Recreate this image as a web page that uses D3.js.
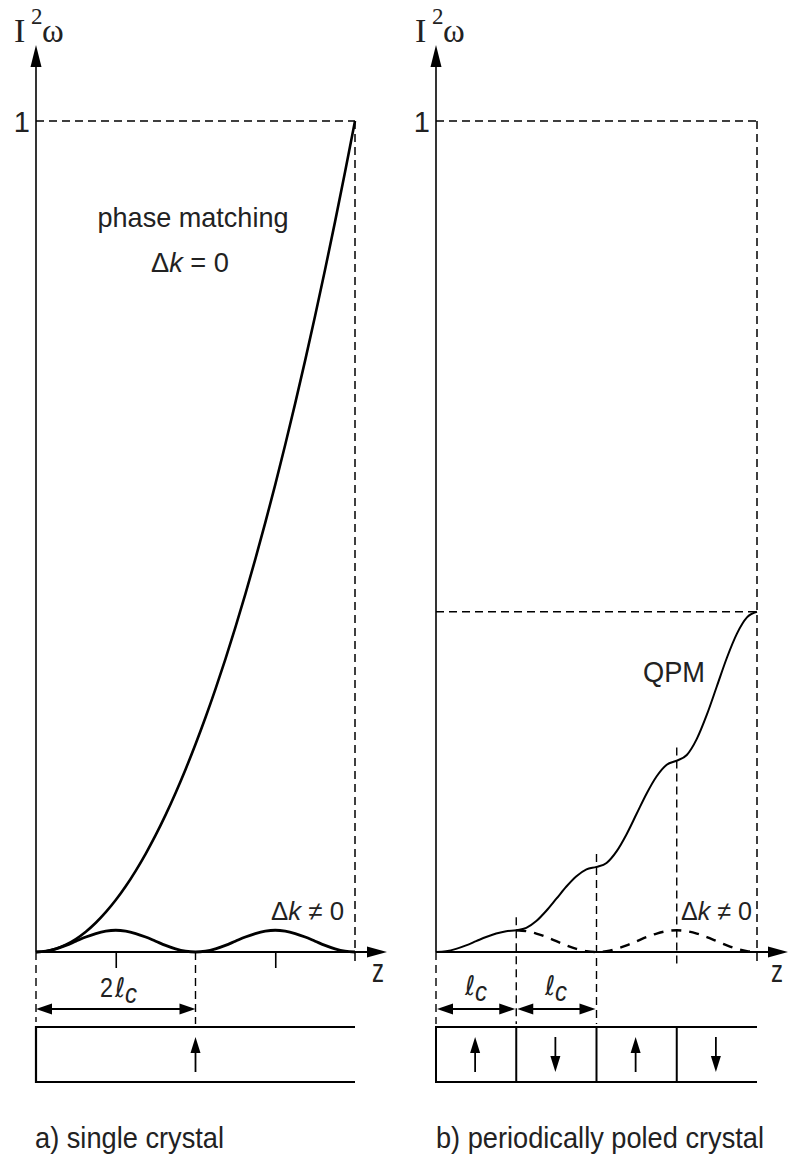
<!DOCTYPE html>
<html><head><meta charset="utf-8">
<script src="https://cdn.jsdelivr.net/npm/d3@7"></script>
<style>body{margin:0;background:#fff}svg{display:block}</style>
</head><body>
<svg id="chart" width="788" height="1161"></svg>
<script>
// ---------- data (z in units of the coherence length l_c, I normalised to phase-matched max) ----------
const zGrid = [0,0.125,0.25,0.375,0.5,0.625,0.75,0.875,1,1.125,1.25,1.375,1.5,1.625,1.75,1.875,2,
               2.125,2.25,2.375,2.5,2.625,2.75,2.875,3,3.125,3.25,3.375,3.5,3.625,3.75,3.875,4];
const phaseMatched = [0,0.0010,0.0039,0.0088,0.0156,0.0244,0.0352,0.0479,0.0625,0.0791,0.0977,0.1182,0.1406,
                      0.1650,0.1914,0.2197,0.25,0.2822,0.3164,0.3525,0.3906,0.4307,0.4727,0.5166,0.5625,
                      0.6104,0.6602,0.7119,0.7656,0.8213,0.8789,0.9385,1];
const mismatched = [0,0.0010,0.0038,0.0080,0.0130,0.0180,0.0222,0.0251,0.0262,0.0251,0.0222,0.0180,0.0130,
                    0.0080,0.0038,0.0010,0,0.0010,0.0038,0.0080,0.0130,0.0180,0.0222,0.0251,0.0262,
                    0.0251,0.0222,0.0180,0.0130,0.0080,0.0038,0.0010,0];
const qpm = [0,0.0010,0.0038,0.0080,0.0130,0.0180,0.0222,0.0251,0.0262,0.0290,0.0372,0.0496,0.0641,0.0788,
             0.0912,0.0995,0.1024,0.1072,0.1211,0.1418,0.1663,0.1908,0.2115,0.2254,0.2303,0.2371,0.2565,
             0.2856,0.3198,0.3541,0.3831,0.4026,0.4094];
const qpmMax = 0.4094;
const yTicks = [1];
const leftTicks = [1, 3];
const domainWalls = [0, 1, 2, 3];
const domainCenters = [0.5, 1.5, 2.5, 3.5];
const domainDirs = ["up", "down", "up", "down"];
const qpmMarkers = [1, 2, 3];
const captions = ["a) single crystal", "b) periodically poled crystal"];

// ---------- scales ----------
const svg = d3.select("#chart");
const y = d3.scaleLinear().domain([0, 1]).range([952, 121]);
const xL = d3.scaleLinear().domain([0, 4]).range([36, 355]);
const xR = d3.scaleLinear().domain([0, 4]).range([436, 757]);
const y0 = y(0);
const boxTop = 1027, boxBot = 1082, dimY = 1009;

const pts = (xs, vals) => xs.map((z, i) => [z, vals[i]]);
const lineGen = x => d3.line().x(d => x(d[0])).y(d => y(d[1])).curve(d3.curveMonotoneX);

function dashed(x1, y1, x2, y2, w = 1.4, dash = "8,5") {
  svg.append("line").attr("x1", x1).attr("y1", y1).attr("x2", x2).attr("y2", y2)
    .attr("stroke", "#000").attr("stroke-width", w).attr("stroke-dasharray", dash);
}
function solid(x1, y1, x2, y2, w = 1.5) {
  svg.append("line").attr("x1", x1).attr("y1", y1).attr("x2", x2).attr("y2", y2)
    .attr("stroke", "#000").attr("stroke-width", w);
}
function head(tx, ty, dir, len = 16, half = 5.5) {
  let p;
  if (dir === "up") p = [[tx, ty], [tx - half, ty + len], [tx + half, ty + len]];
  else if (dir === "down") p = [[tx, ty], [tx - half, ty - len], [tx + half, ty - len]];
  else if (dir === "right") p = [[tx, ty], [tx - len, ty - half], [tx - len, ty + half]];
  else p = [[tx, ty], [tx + len, ty - half], [tx + len, ty + half]];
  svg.append("path").attr("d", "M" + p.map(q => q.join(",")).join("L") + "Z").attr("fill", "#000");
}
function text(str, x, yy, size, opts = {}) {
  const t = svg.append("text").attr("x", x).attr("y", yy)
    .attr("font-family", opts.family || "'Liberation Sans', Arial, sans-serif")
    .attr("font-size", size).attr("fill", "#222")
    .attr("text-anchor", opts.anchor || "start");
  if (opts.italic) t.attr("font-style", "italic");
  if (opts.len) t.attr("textLength", opts.len).attr("lengthAdjust", "spacingAndGlyphs");
  t.text(str);
  return t;
}
function deltaK(str, x, yy, size, len) {
  const t = svg.append("text").attr("x", x).attr("y", yy)
    .attr("font-family", "'Liberation Sans', Arial, sans-serif").attr("font-size", size).attr("fill", "#222")
    .attr("textLength", len).attr("lengthAdjust", "spacingAndGlyphs");
  t.append("tspan").text("\u0394");
  t.append("tspan").attr("font-style", "italic").text("k");
  t.append("tspan").text(str);
}
function ylabel(x0) {
  const serif = "'Liberation Serif', 'Times New Roman', serif";
  text("I", x0 + 1, 42, 34, {family: serif});
  text("2", x0 + 18, 24, 23, {family: serif});
  text("\u03c9", x0 + 29, 42, 33, {family: serif});
}
function lc(x0, yy, prefix) {
  if (prefix) text(prefix, x0 - 15, yy, 28, {len: 13});
  text("\u2113", x0, yy, 27, {italic: true, family: "'DejaVu Sans', sans-serif", len: 10});
  text("c", x0 + 10, yy + 6, 27, {italic: true, len: 12});
}

// ---------- panel frames ----------
[[xL, 387], [xR, 788]].forEach(([x, tipX]) => {
  const ax = x(0);
  solid(ax, y0, ax, 60, 1.6);
  head(ax, 45, "up", 22, 5.5);
  solid(ax, y0, tipX - 10, y0, 1.8);
  head(tipX, y0, "right", 20, 5.5);
  const yAxis = d3.axisLeft(y).tickValues(yTicks).tickSize(0).tickPadding(6).tickFormat(d3.format("d"));
  const g = svg.append("g").attr("transform", `translate(${ax},0)`).call(yAxis);
  g.select(".domain").remove();
  g.selectAll("text").attr("font-family", "'Liberation Sans', Arial, sans-serif")
    .attr("font-size", 29).attr("fill", "#222").attr("dy", "0.36em");
  dashed(ax, y(1), x(4), y(1), 1.5, "8,5");
  dashed(x(4), y(1), x(4), y0 + 14, 1.5, "8,5");
});

// ---------- panel a: single crystal ----------
const ticksAxis = d3.axisBottom(xL).tickValues(leftTicks).tickSize(16).tickFormat("");
const tg = svg.append("g").attr("transform", `translate(0,${y0})`).call(ticksAxis);
tg.select(".domain").remove();
tg.selectAll("line").attr("stroke", "#000").attr("stroke-width", 1.6);

svg.append("path").datum(pts(zGrid, mismatched)).attr("d", lineGen(xL))
  .attr("fill", "none").attr("stroke", "#000").attr("stroke-width", 2.8);
svg.append("path").datum(pts(zGrid, phaseMatched)).attr("d", lineGen(xL))
  .attr("fill", "none").attr("stroke", "#000").attr("stroke-width", 2.6);

dashed(xL(0), y0, xL(0), 1022);
dashed(xL(2), y0, xL(2), 1024);
solid(xL(0) + 14, dimY, xL(2) - 14, dimY, 1.8);
head(xL(0), dimY, "left", 16, 5.5);
head(xL(2), dimY, "right", 16, 5.5);
lc(115, 997, "2");

solid(xL(0), boxTop, xL(4), boxTop, 2.2);
solid(xL(0), boxBot, xL(4), boxBot, 2.2);
solid(xL(0), boxTop - 1, xL(0), boxBot + 1, 2.2);
solid(xL(2), boxBot - 10, xL(2), boxTop + 20, 1.8);
head(xL(2), boxTop + 10, "up", 16, 5);

text("phase matching", 193, 227, 28, {anchor: "middle", len: 191});
deltaK(" = 0", 151, 272, 28, 78);
deltaK(" \u2260 0", 271, 920, 26, 73);
text("z", 372, 982, 34, {len: 12});

// ---------- panel b: periodically poled crystal ----------
dashed(xR(0), y(qpmMax), xR(4), y(qpmMax), 1.5, "8,5");
svg.append("path").datum(pts(zGrid.slice(8), mismatched.slice(8))).attr("d", lineGen(xR))
  .attr("fill", "none").attr("stroke", "#000").attr("stroke-width", 2.4).attr("stroke-dasharray", "10,8");
svg.append("path").datum(pts(zGrid, qpm)).attr("d", lineGen(xR))
  .attr("fill", "none").attr("stroke", "#000").attr("stroke-width", 2.0);

qpmMarkers.forEach(z => {
  const top = y(qpm[zGrid.indexOf(z)]) - 13;
  const bot = z < 3 ? 1024 : y0 + 12;
  dashed(xR(z), top, xR(z), bot, 1.4, "8,5");
});
dashed(xR(0), y0, xR(0), 1024, 1.4, "8,5");

[[0, 1], [1, 2]].forEach(([a, b]) => {
  solid(xR(a) + 14, dimY, xR(b) - 14, dimY, 1.8);
  head(xR(a) + 1, dimY, "left", 16, 5.5);
  head(xR(b) - 1, dimY, "right", 16, 5.5);
});
lc(465, 995);
lc(545, 995);

solid(xR(0), boxTop, xR(4), boxTop, 2.2);
solid(xR(0), boxBot, xR(4), boxBot, 2.2);
domainWalls.forEach(z => solid(xR(z), boxTop - 1, xR(z), boxBot + 1, 2.0));
domainCenters.forEach((z, i) => {
  const cx = xR(z) - 1;
  if (domainDirs[i] === "up") {
    solid(cx, boxBot - 10, cx, boxTop + 20, 1.8);
    head(cx, boxTop + 10, "up", 16, 5);
  } else {
    solid(cx, boxTop + 10, cx, boxBot - 20, 1.8);
    head(cx, boxBot - 10, "down", 16, 5);
  }
});

text("QPM", 643, 682, 30, {len: 62});
deltaK(" \u2260 0", 681, 920, 26, 71);
text("z", 771, 982, 32, {len: 12});

// ---------- captions ----------
text(captions[0], 35, 1148, 29, {len: 189});
text(captions[1], 436, 1148, 29, {len: 328});

ylabel(13);
ylabel(414);
</script>
</body></html>
